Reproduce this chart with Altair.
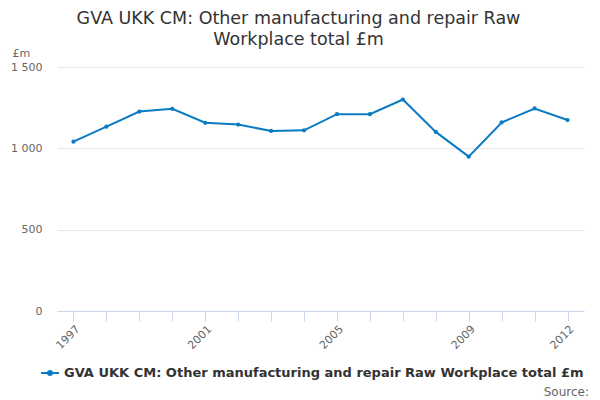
import altair as alt
import pandas as pd

years = [str(y) for y in range(1997, 2013)]
values = [1041, 1133, 1226, 1243, 1157, 1146, 1107, 1111, 1210, 1210, 1300, 1101, 949, 1159, 1245, 1174]
series_name = "GVA UKK CM: Other manufacturing and repair Raw Workplace total £m"
shown_labels = ["1997", "2001", "2005", "2009", "2012"]
y_ticks = [0, 500, 1000, 1500]
source_text = ["Source:"]

df = pd.DataFrame({"year": years, "value": values, "series": [series_name] * len(years)})

color = "#0a7bc2"
font = "DejaVu Sans"

legend_symbol = "M-1,0H1M-0.22,0A0.22,0.22 0 1,0 0.22,0A0.22,0.22 0 1,0 -0.22,0Z"

line = alt.Chart(df).mark_line(
    strokeWidth=2,
    point=alt.OverlayMarkDef(size=18, filled=True, color=color),
).encode(
    x=alt.X("year:O", scale=alt.Scale(paddingInner=1, paddingOuter=0.5), axis=alt.Axis(
        title=None,
        labelExpr="indexof(['" + "','".join(shown_labels) + "'], datum.value) >= 0 ? datum.value : ''",
        labelAngle=-45,
        labelColor="#666666",
        labelFont=font,
        labelFontSize=11,
        domainColor="#ccd6eb",
        tickColor="#ccd6eb",
        tickSize=10,
        grid=False,
        labelPadding=2,
    )),
    y=alt.Y("value:Q", scale=alt.Scale(domain=[0, 1500], nice=False), axis=alt.Axis(
        title="£m",
        titleAngle=0,
        titleX=-45,
        titleY=-14,
        titleAlign="left",
        titleBaseline="middle",
        titleFontWeight="normal",
        titleColor="#666666",
        titleFont=font,
        titleFontSize=11,
        values=y_ticks,
        labelExpr="replace(format(datum.value, ','), ',', ' ')",
        labelColor="#666666",
        labelFont=font,
        labelFontSize=11,
        labelPadding=15,
        domain=False,
        ticks=False,
        gridColor="#e6e6e6",
    )),
    color=alt.Color("series:N", scale=alt.Scale(range=[color]), legend=alt.Legend(
        title=None,
        orient="none",
        legendX=-17,
        legendY=296,
        symbolType=legend_symbol,
        symbolSize=324,
        symbolStrokeWidth=2,
        symbolStrokeColor=color,
        symbolFillColor=color,
        labelFont=font,
        labelFontSize=13,
        labelFontWeight="bold",
        labelColor="#333333",
        labelLimit=700,
        labelOffset=4,
    )),
)

source = alt.Chart(pd.DataFrame({"t": source_text})).mark_text(
    align="right", baseline="middle", fontSize=12, font=font, color="#666666"
).encode(text="t:N", x=alt.value(532), y=alt.value(325))

chart = alt.layer(line, source).properties(
    width=527,
    height=244,
    autosize=alt.AutoSizeParams(type="none"),
    padding={"left": 49, "top": 59, "right": 8, "bottom": 95},
    title=alt.TitleParams(
        text=["GVA UKK CM: Other manufacturing and repair Raw", "Workplace total £m"],
        font=font,
        fontSize=17.5,
        fontWeight="normal",
        color="#333333",
        lineHeight=21,
        anchor="middle",
        dx=-22,
        dy=9,
        offset=8,
    ),
).configure_view(stroke=None)

chart.save("out.html", embed_options={"renderer": "svg", "actions": False})
